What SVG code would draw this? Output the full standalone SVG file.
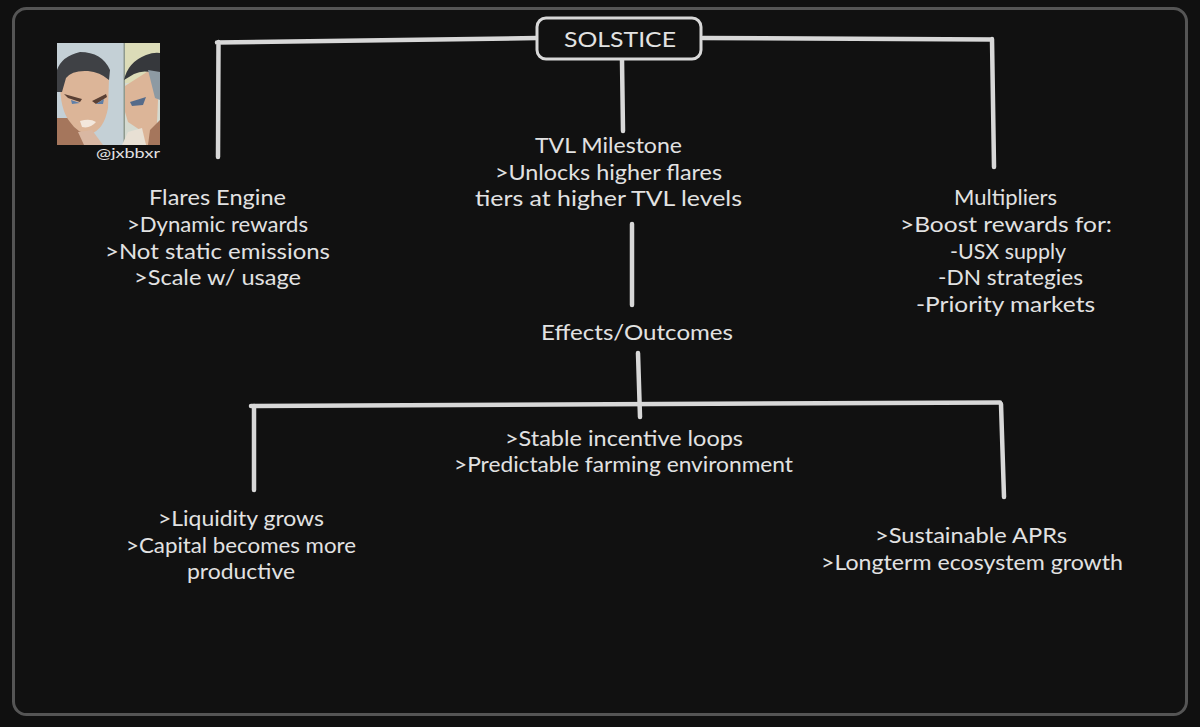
<svg xmlns="http://www.w3.org/2000/svg" width="1200" height="727" viewBox="0 0 1200 727">
<style>
text{font-family:"Lato","Liberation Sans",sans-serif;fill:#e2e2e2;font-size:21px}
.c{fill:none;stroke:#d8d8d8;stroke-width:4.500;stroke-linecap:round;stroke-linejoin:round}
</style>
<rect width="1200" height="727" fill="#101010"/>
<rect x="13.500" y="8.500" width="1173" height="706" rx="13" fill="#111111" stroke="#555555" stroke-width="3"/>
<g id="connectors">
<path class="c" d="M537 38 L217 42.500 M218.500 42 L218 157"/>
<path class="c" d="M703 38 L992 39.500 M992 39 L994 167"/>
<path class="c" d="M622 60 L623 131"/>
<path class="c" d="M632 224 L632 305"/>
<path class="c" d="M638 353 L640 417"/>
<path class="c" d="M251 406 L1000 402.500"/>
<path class="c" d="M254 406 L254 490"/>
<path class="c" d="M1001 404 L1004 497"/>
</g>
<g id="solstice">
<rect x="537" y="18" width="164" height="41" rx="9" fill="#111111" stroke="#d8d8d8" stroke-width="3"/>
<text x="564" y="47" textLength="112" lengthAdjust="spacingAndGlyphs">SOLSTICE</text>
</g>
<g id="avatar">
<rect x="57" y="43" width="103" height="102" fill="#c4d0d6"/>
<rect x="125" y="43" width="35" height="40" fill="#dcdcb8"/>
<rect x="123.500" y="43" width="1.500" height="102" fill="#8f9a8e"/>
<path d="M125 83 H160 V145 H125 Z" fill="#d5dad0"/>
<path d="M57 145 L57 118 L68 118 L84 130 L96 145 Z" fill="#a5765c"/>
<path d="M60 82 Q62 70 80 68 Q100 66 109 78 L108 108 Q104 130 90 134 Q78 134 70 122 Q60 110 60 82 Z" fill="#dcb598"/>
<path d="M57 92 L57 70 Q62 56 80 52 Q102 52 110 70 L109 80 Q100 72 88 71 Q72 70 66 78 L62 92 Z" fill="#3f4145"/>
<path d="M64 94 L82 99 L80 102 L68 98 Z M92 101 L106 94 L107 97 L96 104 Z" fill="#5a4034"/>
<path d="M71 100 L80 103 L72 104 Z M96 104 L104 99 L103 104 Z" fill="#5f7fa8"/>
<path d="M80 121 Q90 118 96 122 Q90 129 82 127 Z" fill="#f3e7dc"/>
<path d="M78 132 L92 130 L103 145 L84 145 Z" fill="#d9b7a2"/>
<path d="M125 86 L150 70 L158 100 L156 145 L146 145 L140 130 L128 122 L125 112 Z" fill="#dcb598"/>
<path d="M124 80 Q128 62 146 55 Q154 52 160 53 L160 76 Q146 68 134 74 Z" fill="#36383c"/>
<path d="M148 70 L160 72 L160 100 L155 98 Z" fill="#8d9aa3"/>
<path d="M130 102 L146 97 L143 105 L132 106 Z" fill="#556b8a"/>
<path d="M122 145 L128 132 L142 128 L146 145 Z" fill="#e8e0d4"/>
<path d="M148 145 L150 130 L160 120 L160 145 Z" fill="#a5765c"/>
<text x="96" y="158" textLength="64" lengthAdjust="spacingAndGlyphs" style="font-size:13.500px">@jxbbxr</text>
</g>
<g id="flares-engine">
<text x="149" y="205" textLength="137" lengthAdjust="spacingAndGlyphs">Flares Engine</text>
<text x="127" y="232" textLength="181" lengthAdjust="spacingAndGlyphs">&gt;Dynamic rewards</text>
<text x="105" y="259" textLength="225" lengthAdjust="spacingAndGlyphs">&gt;Not static emissions</text>
<text x="134" y="285" textLength="167" lengthAdjust="spacingAndGlyphs">&gt;Scale w/ usage</text>
</g>
<g id="tvl-milestone">
<text x="535" y="153" textLength="147" lengthAdjust="spacingAndGlyphs">TVL Milestone</text>
<text x="495" y="180" textLength="227" lengthAdjust="spacingAndGlyphs">&gt;Unlocks higher flares</text>
<text x="475" y="206" textLength="267" lengthAdjust="spacingAndGlyphs">tiers at higher TVL levels</text>
</g>
<g id="multipliers">
<text x="954" y="205" textLength="103" lengthAdjust="spacingAndGlyphs">Multipliers</text>
<text x="900" y="232" textLength="212" lengthAdjust="spacingAndGlyphs">&gt;Boost rewards for:</text>
<text x="950" y="259" textLength="116" lengthAdjust="spacingAndGlyphs">-USX supply</text>
<text x="938" y="285" textLength="145" lengthAdjust="spacingAndGlyphs">-DN strategies</text>
<text x="916" y="312" textLength="179" lengthAdjust="spacingAndGlyphs">-Priority markets</text>
</g>
<g id="effects-outcomes">
<text x="541" y="340" textLength="192" lengthAdjust="spacingAndGlyphs">Effects/Outcomes</text>
</g>
<g id="stable-loops">
<text x="505" y="446" textLength="238" lengthAdjust="spacingAndGlyphs">&gt;Stable incentive loops</text>
<text x="454" y="472" textLength="339" lengthAdjust="spacingAndGlyphs">&gt;Predictable farming environment</text>
</g>
<g id="liquidity">
<text x="158" y="526" textLength="166" lengthAdjust="spacingAndGlyphs">&gt;Liquidity grows</text>
<text x="126" y="553" textLength="230" lengthAdjust="spacingAndGlyphs">&gt;Capital becomes more</text>
<text x="187" y="579" textLength="108" lengthAdjust="spacingAndGlyphs">productive</text>
</g>
<g id="sustainable">
<text x="875" y="543" textLength="192" lengthAdjust="spacingAndGlyphs">&gt;Sustainable APRs</text>
<text x="821" y="570" textLength="302" lengthAdjust="spacingAndGlyphs">&gt;Longterm ecosystem growth</text>
</g>
</svg>
